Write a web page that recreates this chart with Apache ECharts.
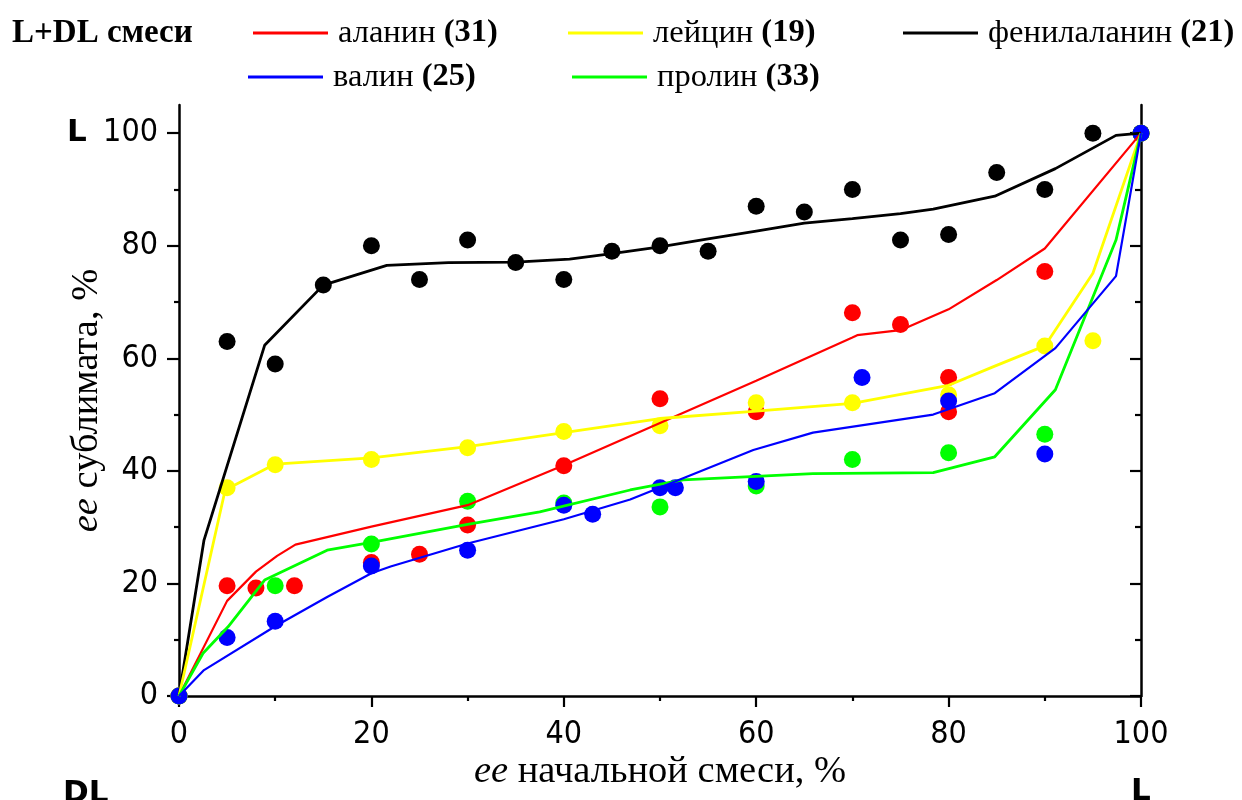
<!DOCTYPE html>
<html>
<head>
<meta charset="utf-8">
<script src="https://cdn.jsdelivr.net/npm/echarts@6/dist/echarts.min.js"></script>
<style>html,body{margin:0;padding:0;background:#fff;}#c{width:1242px;height:800px;}</style>
</head>
<body>
<div id="c"></div>
<script>
// ---- data ----
var names = ['аланин', 'лейцин', 'фенилаланин', 'валин', 'пролин'];
var codes = ['(31)', '(19)', '(21)', '(25)', '(33)'];
var colors = ['#ff0000', '#ffff00', '#000000', '#0000ff', '#00ff00'];

// measured points
var alaX = [0, 5, 8, 12, 20, 25, 30, 40, 50, 60, 70, 75, 80, 80, 90, 100];
var alaY = [0, 19.6, 19.2, 19.6, 23.7, 25.2, 30.4, 40.9, 52.8, 50.5, 68.1, 66, 56.6, 50.5, 75.4, 100];
var leuX = [0, 5, 10, 20, 30, 40, 50, 60, 70, 80, 90, 95, 100];
var leuY = [0, 37, 41.1, 42, 44.1, 47, 48, 52.1, 52.1, 53.5, 62.2, 63.1, 100];
var pheX = [0, 5, 10, 15, 20, 25, 30, 35, 40, 45, 50, 55, 60, 65, 70, 75, 80, 85, 90, 95, 100];
var pheY = [0, 63, 59, 73, 80, 74, 81, 77, 74, 79, 80, 79, 87, 86, 90, 81, 82, 93, 90, 100, 100];
var valX = [0, 5, 10, 20, 30, 40, 43, 50, 51.6, 60, 71, 80, 90, 100];
var valY = [0, 10.4, 13.3, 23.1, 25.9, 33.9, 32.3, 37, 37, 38.1, 56.6, 52.4, 43, 100];
var proX = [0, 10, 20, 30, 40, 50, 60, 70, 80, 90, 100];
var proY = [0, 19.6, 27, 34.6, 34.3, 33.6, 37.3, 42, 43.2, 46.5, 100];

// model curves
var alaFitX = [0, 5, 8, 10.2, 12.1, 20, 30, 40, 50, 60, 70, 70.5, 75, 80, 85, 90, 100];
var alaFitY = [0, 16.9, 22.1, 24.9, 26.9, 30.1, 33.9, 41, 48.5, 56, 63.7, 64.1, 65, 68.7, 73.9, 79.5, 100];
var leuFitX = [0, 4.8, 10, 20, 30, 40, 50, 60, 70, 80, 84.8, 90, 95, 100];
var leuFitY = [0, 36.6, 41.2, 42.3, 44.3, 46.8, 49.3, 50.6, 52, 55.2, 58.6, 62.2, 75.1, 100];
var pheFitX = [0, 2.6, 8.9, 15, 21.6, 28, 35, 40.6, 45, 50, 55, 60, 65, 70, 75, 78.4, 84.8, 91.1, 97.4, 100];
var pheFitY = [0, 27.7, 62.3, 73, 76.5, 77, 77.1, 77.6, 78.6, 79.8, 81.2, 82.6, 84, 84.8, 85.7, 86.5, 88.8, 93.7, 99.6, 100];
var valFitX = [0, 2.6, 10, 15.4, 20, 22, 30, 40, 46.9, 52.4, 59.7, 65.9, 78.4, 84.8, 91.1, 97.4, 100];
var valFitY = [0, 4.6, 12.4, 17.6, 21.8, 23, 27.1, 31.4, 34.9, 38.7, 43.7, 46.8, 50, 53.8, 61.8, 74.6, 100];
var proFitX = [0, 2.5, 5.1, 8.9, 15.4, 20, 30, 37.5, 46.9, 52.4, 65.9, 78.4, 84.8, 91.1, 97.4, 100];
var proFitY = [0, 7.6, 12.3, 20.6, 25.9, 27.3, 30.5, 32.7, 36.6, 38.4, 39.5, 39.7, 42.5, 54.4, 81, 100];

// axis ticks
var xTicks = [0, 20, 40, 60, 80, 100];
var yMajor = [0, 20, 40, 60, 80, 100];
var yMinor = [10, 30, 50, 70, 90];

function pairs(xs, ys) { return xs.map(function (x, i) { return [x, ys[i]]; }); }

var pts = [pairs(alaX, alaY), pairs(leuX, leuY), pairs(pheX, pheY), pairs(valX, valY), pairs(proX, proY)];
var fits = [pairs(alaFitX, alaFitY), pairs(leuFitX, leuFitY), pairs(pheFitX, pheFitY), pairs(valFitX, valFitY), pairs(proFitX, proFitY)];
var lineW = [2.2, 2.8, 2.8, 2.2, 2.8];

// draw order (bottom -> top): phe, ala, leu, pro, val
var order = [2, 0, 1, 4, 3];
var series = [];
order.forEach(function (i) {
  series.push({
    name: names[i], type: 'line', data: fits[i], showSymbol: false, symbol: 'none',
    lineStyle: { color: colors[i], width: lineW[i] }, itemStyle: { color: colors[i] },
    animation: false, silent: true
  });
  series.push({
    name: names[i] + ' pts', type: 'scatter', data: pts[i], symbol: 'circle', symbolSize: 17,
    itemStyle: { color: colors[i], opacity: 1 }, animation: false, silent: true
  });
});

var serif = '"Liberation Serif", "Times New Roman", serif';
var condensed = '"DejaVu Sans Condensed", "DejaVu Sans", sans-serif';
var legendPos = [[253, 15], [568, 15], [903, 15], [248, 59], [572, 59]];
var legends = names.map(function (n, i) {
  return {
    data: [n], left: legendPos[i][0], top: legendPos[i][1], padding: 0,
    icon: 'rect', itemWidth: 75, itemHeight: 3, selectedMode: false,
    formatter: function (name) { return '{t|' + name + '} {b|' + codes[names.indexOf(name)] + '}'; },
    textStyle: {
      color: '#000', fontFamily: serif, fontSize: 32.5, lineHeight: 36,
      rich: {
        t: { fontFamily: serif, fontSize: 32.5, color: '#000', lineHeight: 36, padding: [0, 0, 0, 5] },
        b: { fontFamily: serif, fontSize: 32.5, fontWeight: 'bold', color: '#000', lineHeight: 36 }
      }
    }
  };
});

var axisCol = '#000';
var option = {
  backgroundColor: '#fff',
  animation: false,
  title: {
    text: 'L+DL смеси', left: 12, top: 15, padding: 0,
    textStyle: { fontFamily: serif, fontSize: 33, fontWeight: 'bold', color: '#000', lineHeight: 36 }
  },
  legend: legends,
  grid: { left: 179, right: 101, top: 105, bottom: 104, containLabel: false },
  xAxis: {
    type: 'value', min: 0, max: 100, interval: 20, position: 'bottom',
    name: '{i|ee} начальной смеси, %', nameLocation: 'middle', nameGap: 56, nameMoveOverlap: false,
    nameTextStyle: {
      fontFamily: serif, fontSize: 38.5, color: '#000',
      rich: { i: { fontFamily: serif, fontSize: 38.5, fontStyle: 'italic', color: '#000' } }
    },
    axisLine: { show: true, onZero: false, lineStyle: { color: axisCol, width: 2.5 } },
    axisTick: { show: true, length: 11, lineStyle: { color: axisCol, width: 2.2 } },
    minorTick: { show: true, splitNumber: 2, length: 5, lineStyle: { color: axisCol, width: 2.2 } },
    axisLabel: { fontFamily: condensed, fontSize: 32, color: '#000', margin: 23,
      customValues: xTicks },
    splitLine: { show: false }, minorSplitLine: { show: false }
  },
  yAxis: [
    {
      type: 'value', min: 0, max: 105, position: 'left',
      name: '{i|ee} сублимата, %', nameLocation: 'middle', nameGap: 73, nameMoveOverlap: false,
      nameTextStyle: {
        fontFamily: serif, fontSize: 38.5, color: '#000',
        rich: { i: { fontFamily: serif, fontSize: 38.5, fontStyle: 'italic', color: '#000' } }
      },
      axisLine: { show: true, onZero: false, lineStyle: { color: axisCol, width: 2.5 } },
      axisTick: { show: true, length: 12, customValues: yMajor, lineStyle: { color: axisCol, width: 2.2 } },
      axisLabel: { fontFamily: condensed, fontSize: 32, color: '#000', margin: 21, customValues: yMajor },
      splitLine: { show: false }
    },
    {
      type: 'value', min: 0, max: 105, position: 'left',
      axisLine: { show: false },
      axisTick: { show: true, length: 5, customValues: yMinor, lineStyle: { color: axisCol, width: 2.2 } },
      axisLabel: { show: false }, splitLine: { show: false }
    },
    {
      type: 'value', min: 0, max: 105, position: 'right',
      axisLine: { show: true, onZero: false, lineStyle: { color: axisCol, width: 2.5 } },
      axisTick: { show: true, inside: true, length: 11, customValues: yMajor, lineStyle: { color: axisCol, width: 2.2 } },
      axisLabel: { show: false }, splitLine: { show: false }
    },
    {
      type: 'value', min: 0, max: 105, position: 'right',
      axisLine: { show: false },
      axisTick: { show: true, inside: true, length: 6, customValues: yMinor, lineStyle: { color: axisCol, width: 2.2 } },
      axisLabel: { show: false }, splitLine: { show: false }
    }
  ],
  graphic: [
    { type: 'text', left: 67, top: 117, style: { text: 'L', fill: '#000', font: 'bold 31px "DejaVu Sans"' } },
    { type: 'text', left: 63, top: 778, style: { text: 'DL', fill: '#000', font: 'bold 31px "DejaVu Sans"' } },
    { type: 'text', left: 1131, top: 776, style: { text: 'L', fill: '#000', font: 'bold 31px "DejaVu Sans"' } }
  ],
  series: series
};

var chart = echarts.init(document.getElementById('c'), null, { renderer: 'canvas' });
chart.setOption(option);
</script>
</body>
</html>
